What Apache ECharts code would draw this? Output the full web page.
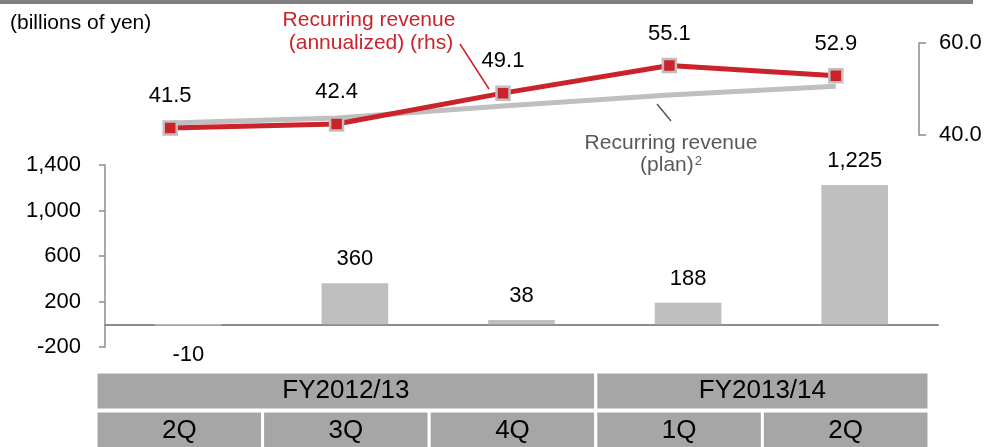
<!DOCTYPE html>
<html>
<head>
<meta charset="utf-8">
<script src="https://cdn.jsdelivr.net/npm/echarts@6/dist/echarts.min.js"></script>
<style>
  html, body { margin: 0; padding: 0; background: #fff; }
  #chart { width: 989px; height: 447px; }
</style>
</head>
<body>
<div id="chart"></div>
<script>
const quarters = ['2Q', '3Q', '4Q', '1Q', '2Q'];
const fiscalYears = ['FY2012/13', 'FY2013/14'];
const fiscalSpans = [3, 2];
const barValues = [-10, 360, 38, 188, 1225];
const recurring = [41.5, 42.4, 49.1, 55.1, 52.9];
const recurringPlan = [42.6, 43.7, 46.3, 48.7, 50.6];
const leftTicks = { min: -200, max: 1400, interval: 400 };
const rightTicks = { min: 40, max: 60, interval: 20 };

const FONT = 'Liberation Sans, Arial, sans-serif';
const RED = '#cc2229';
const BAR_GRAY = '#bfbfbf';
const AXIS_GRAY = '#8c8c8c';
const NUM_SIZE = 22;

const chart = echarts.init(document.getElementById('chart'));

// table under the bars
const tableLeft = 96, tableRight = 929, colW = (tableRight - tableLeft) / quarters.length;
const tableCells = [];
let col = 0;
fiscalYears.forEach((fy, i) => {
  const x = tableLeft + col * colW;
  const w = fiscalSpans[i] * colW;
  tableCells.push({
    type: 'rect',
    shape: { x: x, y: 372, width: w, height: 38 },
    style: { fill: '#a6a6a6', stroke: '#fff', lineWidth: 3 }
  });
  tableCells.push({
    type: 'text', x: x + w / 2, y: 391,
    style: { text: fy, fill: '#000', font: '26px ' + FONT, align: 'center', verticalAlign: 'middle' }
  });
  col += fiscalSpans[i];
});
quarters.forEach((q, i) => {
  const x = tableLeft + i * colW;
  tableCells.push({
    type: 'rect',
    shape: { x: x, y: 411, width: colW, height: 40 },
    style: { fill: '#a6a6a6', stroke: '#fff', lineWidth: 3 }
  });
  tableCells.push({
    type: 'text', x: x + colW / 2, y: 431,
    style: { text: q, fill: '#000', font: '26px ' + FONT, align: 'center', verticalAlign: 'middle' }
  });
});

const option = {
  animation: false,
  grid: [
    { left: 105, right: 51, top: 165, bottom: 100 },
    { left: 87, right: 70, top: 43, bottom: 312 }
  ],
  xAxis: [
    {
      type: 'category', gridIndex: 0, data: quarters,
      axisLine: { onZero: true, lineStyle: { color: AXIS_GRAY, width: 2 } },
      axisTick: { show: false }, axisLabel: { show: false }
    },
    {
      type: 'category', gridIndex: 1, data: quarters, show: false
    }
  ],
  yAxis: [
    {
      type: 'value', gridIndex: 0,
      min: leftTicks.min, max: leftTicks.max, interval: leftTicks.interval,
      axisLine: { show: true, lineStyle: { color: AXIS_GRAY, width: 1.5 } },
      axisTick: { show: true, length: 6, lineStyle: { color: AXIS_GRAY, width: 1.5 } },
      splitLine: { show: false },
      axisLabel: {
        color: '#000', fontSize: NUM_SIZE, fontFamily: FONT, margin: 24,
        formatter: (v) => v.toLocaleString('en-US')
      }
    },
    {
      type: 'value', gridIndex: 1, position: 'right',
      min: rightTicks.min, max: rightTicks.max, interval: rightTicks.interval,
      axisLine: { show: true, lineStyle: { color: AXIS_GRAY, width: 1.5 } },
      axisTick: { show: true, length: 7, lineStyle: { color: AXIS_GRAY, width: 1.5 } },
      splitLine: { show: false },
      axisLabel: {
        color: '#000', fontSize: NUM_SIZE, fontFamily: FONT, margin: 20,
        formatter: (v) => v.toFixed(1)
      }
    }
  ],
  series: [
    {
      type: 'bar', xAxisIndex: 0, yAxisIndex: 0,
      data: barValues.map((v) => ({
        value: v,
        label: { position: v < 0 ? 'bottom' : 'top', distance: v < 0 ? 19 : 13 }
      })),
      barWidth: '40%',
      itemStyle: { color: BAR_GRAY },
      label: {
        show: true, color: '#000', fontSize: NUM_SIZE, fontFamily: FONT,
        formatter: (p) => p.value.toLocaleString('en-US')
      }
    },
    {
      type: 'line', xAxisIndex: 1, yAxisIndex: 1,
      data: recurringPlan,
      showSymbol: false, symbol: 'none',
      lineStyle: { color: BAR_GRAY, width: 5 },
      z: 2
    },
    {
      type: 'line', xAxisIndex: 1, yAxisIndex: 1,
      data: recurring,
      symbol: 'rect', symbolSize: 13,
      lineStyle: { color: RED, width: 5 },
      itemStyle: { color: RED, borderColor: BAR_GRAY, borderWidth: 2.5 },
      label: {
        show: true, position: 'top', distance: 13,
        color: '#000', fontSize: NUM_SIZE, fontFamily: FONT,
        formatter: (p) => p.value.toFixed(1)
      },
      z: 3
    }
  ],
  graphic: [
    { type: 'rect', shape: { x: 0, y: 0, width: 973, height: 4 }, style: { fill: '#7f7f7f' } },
    {
      type: 'text', x: 10, y: 23,
      style: { text: '(billions of yen)', fill: '#000', font: '21px ' + FONT, verticalAlign: 'middle' }
    },
    {
      type: 'text', x: 369, y: 20,
      style: { text: 'Recurring revenue', fill: RED, font: '21px ' + FONT, align: 'center', verticalAlign: 'middle' }
    },
    {
      type: 'text', x: 371, y: 43,
      style: { text: '(annualized) (rhs)', fill: RED, font: '21px ' + FONT, align: 'center', verticalAlign: 'middle' }
    },
    {
      type: 'line', shape: { x1: 460, y1: 44, x2: 489, y2: 89 },
      style: { stroke: RED, lineWidth: 1.5 }
    },
    {
      type: 'text', x: 671, y: 143,
      style: { text: 'Recurring revenue', fill: '#595959', font: '21px ' + FONT, align: 'center', verticalAlign: 'middle' }
    },
    {
      type: 'text', x: 671, y: 165,
      style: {
        text: '(plan){s|2}', fill: '#595959', font: '21px ' + FONT, align: 'center', verticalAlign: 'middle',
        rich: { s: { fontSize: 13, fontFamily: FONT, fill: '#595959', verticalAlign: 'top', padding: [0, 0, 8, 1] } }
      }
    },
    {
      type: 'line', shape: { x1: 657, y1: 104, x2: 671, y2: 121 },
      style: { stroke: '#595959', lineWidth: 1.5 }
    }
  ].concat(tableCells)
};

chart.setOption(option);
</script>
</body>
</html>
